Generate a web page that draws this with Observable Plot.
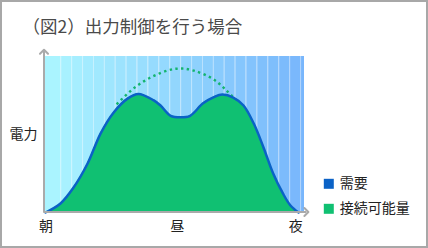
<!DOCTYPE html>
<html><head><meta charset="utf-8">
<script src="https://cdn.jsdelivr.net/npm/d3@7"></script>
<script src="https://cdn.jsdelivr.net/npm/@observablehq/plot@0.6"></script>
<style>
body{margin:0;background:#fff;}
#wrap{position:relative;width:428px;height:248px;overflow:hidden;background:#fff;}
#frame{position:absolute;left:0;top:0;width:428px;height:248px;box-sizing:border-box;border:2px solid #a8a8a8;pointer-events:none;}
#wrap svg{display:block;overflow:visible;}
</style></head><body>
<div id="wrap"><div id="frame"></div></div>
<script>
// ---- data ----
const title = "（図2）出力制御を行う場合";
const yLabel = "電力";
const tickLabels = ["朝", "昼", "夜"];
const tickPositions = [0.05, 12.2, 23.2];
const demandX = [0, 1.39, 2.6, 3.9, 5.1, 6.3, 7.6, 8.6, 10.0, 10.66, 11.6, 12.5, 13.4, 14.6, 15.6, 16.4, 17.4, 18.35, 19.3, 20.2, 21.1, 22.0, 22.7, 23.45];
const demandY = [0, 5.8, 16, 31.4, 50.6, 64, 73, 76, 72, 68.6, 62, 61, 62, 70, 74, 75.6, 73.7, 68.6, 57, 41.7, 25, 12.2, 4.5, 0];
const capacityX = [6.67, 8.16, 9.73, 11.3, 12.5, 13.7, 15.3, 16.5, 17.7];
const capacityY = [69.9, 79.5, 86.5, 91, 92.3, 91, 86.5, 80, 71.8];
const legendLabels = ["需要", "接続可能量"];

// ---- styles ----
const blue = "#0b62c6";
const green = "#10c072";
const dotGreen = "#14b46e";
const axisGray = "#aaaaaa";
const bgLeft = "#acf6ff";
const bgRight = "#78b6fc";
const xDomain = [0, 24];
const yDomain = [0, 100];

const demand = demandX.map((x, i) => ({x, y: demandY[i]}));
const capacity = capacityX.map((x, i) => ({x, y: capacityY[i]}));
const edges = [xDomain[0], ...d3.range(1.42, 23.9, 1.01), xDomain[1]];
const bands = d3.pairs(edges).map(([a, b]) => ({a, b, m: (a + b) / 2}));
const axes = [
  {x1: xDomain[0], y1: yDomain[0], x2: xDomain[0], y2: yDomain[1] * 1.03, dx: -1.5, dy: 0},
  {x1: xDomain[0], y1: yDomain[0], x2: xDomain[1] * 1.015, y2: yDomain[0], dx: -2, dy: -0.5}
];

const legendMarks = legendLabels.flatMap((label, i) => [
  Plot.dot([label], {frameAnchor: "bottom-right", dx: 24.3, dy: -28.7 + 25 * i, symbol: "square", r: 5.64, fill: i === 0 ? blue : green, stroke: "none"}),
  Plot.text([label], {frameAnchor: "bottom-right", dx: 35.3, dy: -29 + 25 * i, textAnchor: "start", lineAnchor: "middle", fontSize: 14, fill: "#222"})
]);
const axisMarks = axes.map(a =>
  Plot.link([a], {x1: "x1", y1: "y1", x2: "x2", y2: "y2", dx: a.dx, dy: a.dy, stroke: axisGray, strokeWidth: 2, markerEnd: "arrow"})
);

const chart = Plot.plot({
  width: 428, height: 248,
  marginLeft: 45, marginRight: 124, marginTop: 56, marginBottom: 36,
  x: {domain: xDomain, axis: null},
  y: {domain: yDomain, axis: null},
  color: {type: "linear", domain: xDomain, range: [bgLeft, bgRight], interpolate: "rgb"},
  style: {fontFamily: "'Noto Sans CJK JP', 'Noto Sans', sans-serif", background: "transparent", overflow: "visible"},
  marks: [
    Plot.rect(bands, {x1: "a", x2: "b", fill: "m"}),
    Plot.ruleX(edges.slice(1, -1), {stroke: "white", strokeOpacity: 0.4, strokeWidth: 1}),
    Plot.line(capacity, {x: "x", y: "y", curve: "natural", stroke: dotGreen, strokeWidth: 2.4, strokeDasharray: "0.01 5.8", strokeLinecap: "square"}),
    Plot.areaY(demand, {x: "x", y: "y", curve: "catmull-rom", fill: green}),
    Plot.line(demand, {x: "x", y: "y", curve: "catmull-rom", stroke: blue, strokeWidth: 2.5}),
    ...axisMarks,
    Plot.text([title], {frameAnchor: "top-left", dx: -23, dy: -29, textAnchor: "start", lineAnchor: "middle", fontSize: 17.5, fill: "#4a4a4a"}),
    Plot.text([yLabel], {frameAnchor: "left", dx: -22, textAnchor: "middle", lineAnchor: "middle", fontSize: 14, fill: "#222"}),
    Plot.text(tickLabels, {x: (d, i) => tickPositions[i], frameAnchor: "bottom", dy: 14, textAnchor: "middle", lineAnchor: "middle", fontSize: 14, fill: "#222"}),
    ...legendMarks
  ]
});
document.getElementById("wrap").prepend(chart);
</script>
</body></html>
